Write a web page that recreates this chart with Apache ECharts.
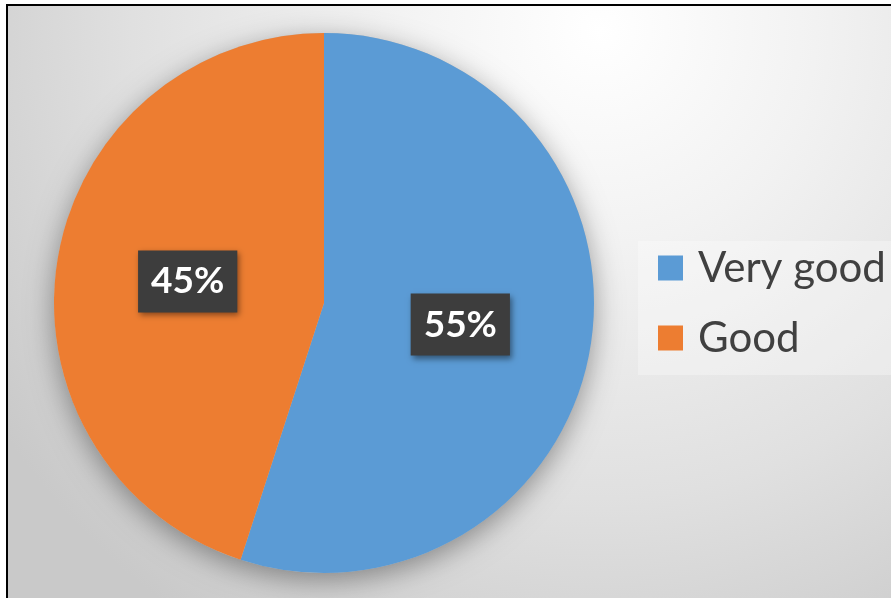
<!DOCTYPE html>
<html>
<head>
<meta charset="utf-8">
<title>Rating breakdown</title>
<script src="https://cdn.jsdelivr.net/npm/echarts@6/dist/echarts.min.js"></script>
<style>
  html, body { margin: 0; padding: 0; background: #ffffff; overflow: hidden; }
  #chart { width: 891px; height: 598px; }
</style>
</head>
<body>
<div id="chart"></div>
<script>
// Share of responses per rating
const categories = ['Very good', 'Good'];
const shares = [55, 45];
const sliceColors = ['#5b9bd5', '#ed7d31'];

const chart = echarts.init(document.getElementById('chart'), null, { renderer: 'canvas' });

const pieCenter = [324, 303];
const pieRadius = 270;

const backdrop = new echarts.graphic.RadialGradient(600, 30, 720, [
  { offset: 0, color: '#ffffff' },
  { offset: 0.3, color: '#f2f2f2' },
  { offset: 0.65, color: '#e0e0e0' },
  { offset: 1, color: '#c9c9c9' }
], true);

chart.setOption({
  animation: false,
  backgroundColor: '#ffffff',
  graphic: {
    elements: [
      {
        type: 'rect',
        z: -100,
        silent: true,
        shape: { x: 7, y: 5, width: 900, height: 600 },
        style: { fill: backdrop }
      },
      {
        type: 'polyline',
        z: -99,
        silent: true,
        shape: { points: [[7, 600], [7, 5], [900, 5]] },
        style: { stroke: '#000000', lineWidth: 2, fill: null }
      }
    ]
  },
  legend: {
    data: categories,
    orient: 'vertical',
    left: 638,
    top: 241,
    padding: [4, 30, 14, 20],
    backgroundColor: 'rgba(255,255,255,0.3)',
    icon: 'rect',
    itemWidth: 25,
    itemHeight: 25,
    itemGap: 24,
    textStyle: {
      fontFamily: 'Lato',
      fontSize: 42,
      lineHeight: 46,
      color: '#404040',
      padding: [0, 0, 0, 10]
    }
  },
  series: [
    {
      // soft drop shadow beneath the pie
      type: 'pie',
      silent: true,
      z: 1,
      center: pieCenter,
      radius: pieRadius,
      label: { show: false },
      labelLine: { show: false },
      itemStyle: {
        color: '#bdbdbd',
        shadowBlur: 28,
        shadowColor: 'rgba(0,0,0,0.38)',
        shadowOffsetY: 7
      },
      data: [{ value: 1, name: '' }]
    },
    {
      type: 'pie',
      z: 2,
      center: pieCenter,
      radius: pieRadius,
      startAngle: 90,
      clockwise: true,
      data: categories.map((name, i) => ({
        name: name,
        value: shares[i],
        itemStyle: { color: sliceColors[i] }
      })),
      label: {
        show: true,
        position: 'inside',
        formatter: (p) => p.value + '%',
        fontFamily: 'Lato',
        fontWeight: 'bold',
        fontSize: 37,
        lineHeight: 36,
        color: '#ffffff',
        backgroundColor: '#3d3d3d',
        padding: [13, 13],
        shadowBlur: 6,
        shadowOffsetX: 2,
        shadowOffsetY: 3,
        shadowColor: 'rgba(0,0,0,0.45)'
      },
      labelLine: { show: false },
      emphasis: { disabled: true }
    }
  ]
});
</script>
</body>
</html>
